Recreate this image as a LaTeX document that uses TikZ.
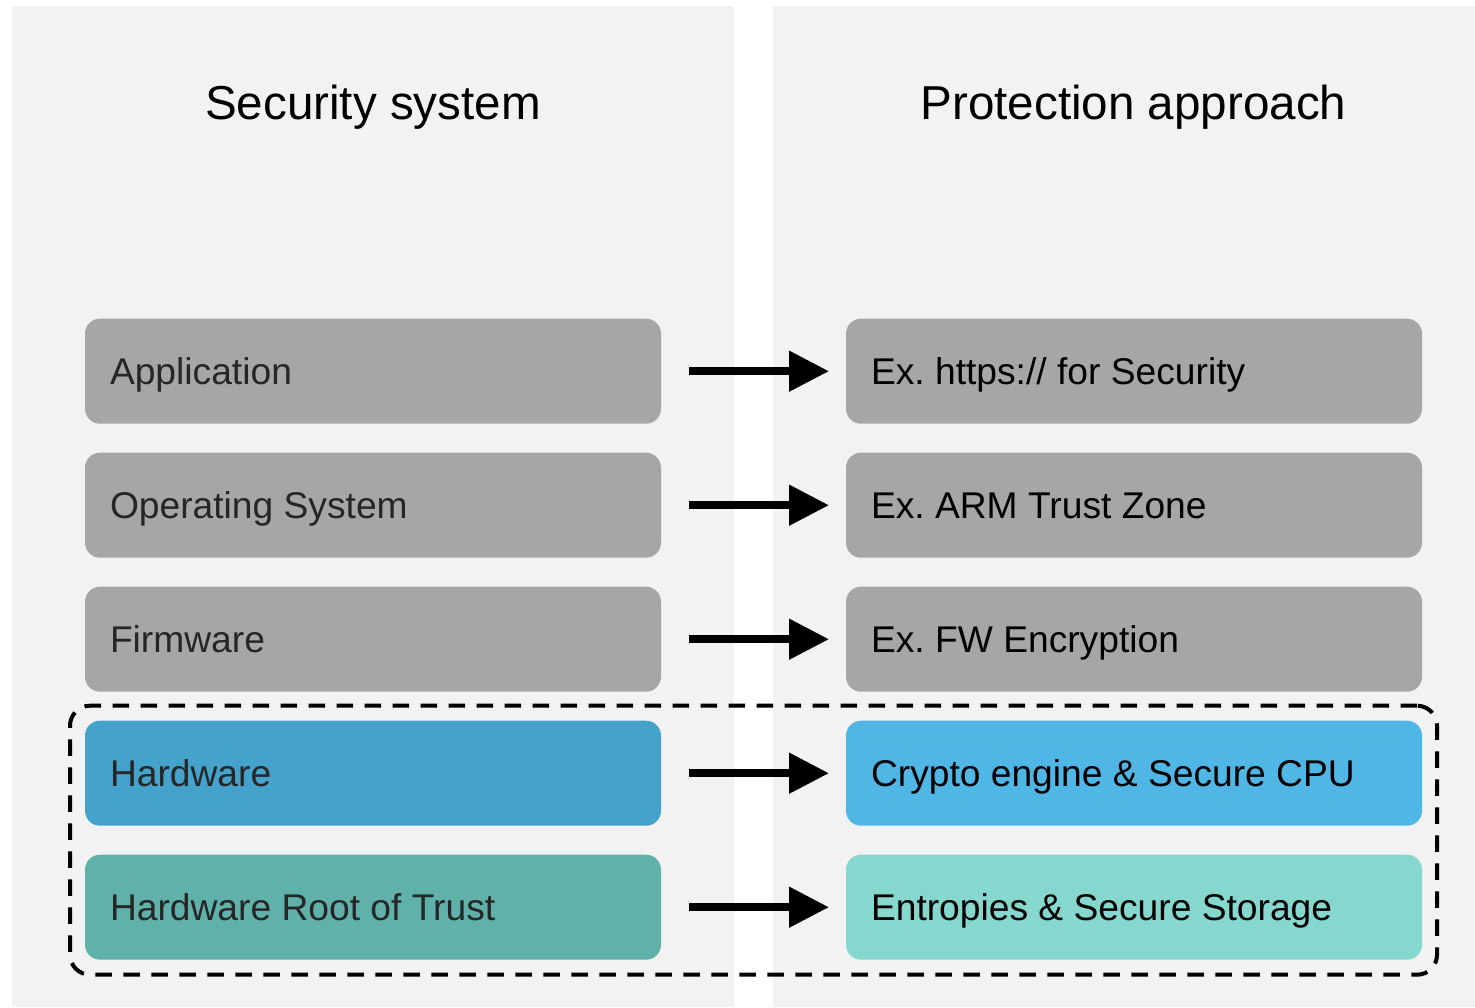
\documentclass[tikz,border=0pt]{standalone}
\usepackage{fontspec}
\setmainfont{Liberation Sans}
\frenchspacing
\usetikzlibrary{arrows.meta, positioning, fit}
\definecolor{panelgray}{HTML}{F2F2F2}
\definecolor{layergray}{HTML}{A6A6A6}
\definecolor{hwblue}{HTML}{45A2CB}
\definecolor{hwsky}{HTML}{50B6E5}
\definecolor{rotteal}{HTML}{5FB1AA}
\definecolor{rotmint}{HTML}{86D7CE}
\definecolor{labeltext}{HTML}{262626}
\tikzset{
  layer/.style={rectangle,rounded corners=7.5pt,fill=#1,draw=none,outer sep=0pt,
    minimum width=288pt,minimum height=52.5pt,text width=263pt,inner xsep=12.5pt,
    text height=13.25pt,text depth=0pt,
    align=flush left,font=\fontsize{18.6}{22}\selectfont,text=labeltext},
  approach/.style={layer=#1,text=black},
  title/.style={font=\fontsize{23.8}{28}\selectfont,text=black,
    text height=17pt,text depth=0pt},
  arrow/.style={-{Triangle[length=20pt,width=19.5pt]},line width=4pt,black,
    shorten <=14pt,shorten >=8.5pt},
  trustbox/.style={draw=black,line width=2pt,dash pattern=on 8.25pt off 5.75pt,
    rounded corners=10pt,inner sep=7.5pt},
}
\begin{document}
\begin{tikzpicture}[node distance=14.5pt and 92.5pt]
  \useasboundingbox (0,0) rectangle (737.5pt,-503.5pt);
  % two column panels
  \fill[panelgray] (6pt,-3pt) rectangle (367pt,-503.5pt);
  \fill[panelgray] (386.5pt,-3pt) rectangle (737.5pt,-503.5pt);
  \node[title] (systitle) at (186.5pt,-51.4pt) {Security system};
  \node[title] (prottitle) at (566.75pt,-51.4pt) {Protection approach};

  % system layers, top to bottom
  \node[layer=layergray] (app) at (186.5pt,-185.6pt) {Application};
  \node[layer=layergray,below=of app] (os) {Operating System};
  \node[layer=layergray,below=of os] (fw) {Firmware};
  \node[layer=hwblue,below=of fw] (hw) {Hardware};
  \node[layer=rotteal,below=of hw] (rot) {Hardware Root of Trust};

  % matching protection for each layer
  \node[approach=layergray,right=of app] (https) {Ex. https:// for Security};
  \node[approach=layergray,right=of os] (tz) {Ex. ARM Trust Zone};
  \node[approach=layergray,right=of fw] (fwenc) {Ex. FW Encryption};
  \node[approach=hwsky,right=of hw] (crypto) {Crypto engine \& Secure CPU};
  \node[approach=rotmint,right=of rot] (entropy) {Entropies \& Secure Storage};

  \draw[arrow] (app) -- (https);
  \draw[arrow] (os) -- (tz);
  \draw[arrow] (fw) -- (fwenc);
  \draw[arrow] (hw) -- (crypto);
  \draw[arrow] (rot) -- (entropy);

  % hardware trust boundary
  \node[trustbox,fit=(hw)(rot)(crypto)(entropy)] (trust) {};
\end{tikzpicture}
\end{document}
